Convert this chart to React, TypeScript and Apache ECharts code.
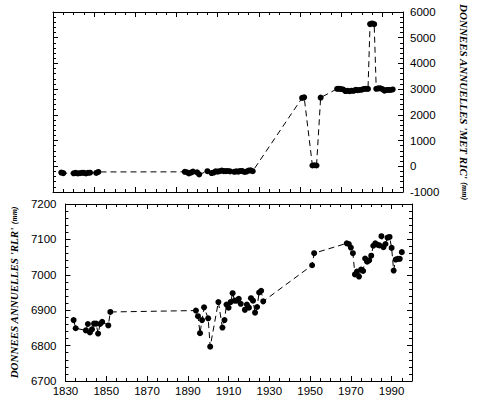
import React, { useEffect, useRef } from "react";
import * as echarts from "echarts";

// Bottom panel: RLR annual means (mm)
const rlrYears = [
  1834, 1835, 1840, 1841, 1842, 1843, 1844, 1845, 1846, 1847, 1848, 1851, 1852,
  1894, 1895, 1896, 1897, 1898, 1900, 1901, 1905, 1907, 1908, 1909, 1910, 1911,
  1912, 1913, 1914, 1915, 1916, 1918, 1919, 1920, 1921, 1922, 1923, 1924, 1925,
  1926, 1927, 1951, 1952, 1968, 1969, 1970, 1971, 1972, 1973, 1974, 1975, 1976,
  1977, 1978, 1979, 1980, 1981, 1982, 1983, 1984, 1985, 1986, 1987, 1988, 1989,
  1990, 1991, 1992, 1993, 1994, 1995,
];
const rlrValues = [
  6872, 6849, 6843, 6861, 6837, 6846, 6862, 6862, 6834, 6861, 6867, 6857, 6895,
  6899, 6883, 6835, 6872, 6908, 6877, 6797, 6923, 6851, 6872, 6916, 6907, 6923,
  6948, 6927, 6927, 6932, 6918, 6901, 6916, 6907, 6934, 6927, 6893, 6909, 6950,
  6955, 6925, 7027, 7061, 7089, 7087, 7077, 7061, 7001, 7009, 6995, 7015, 7011,
  7046, 7037, 7041, 7054, 7082, 7089, 7085, 7083, 7109, 7078, 7087, 7105, 7107,
  7076, 7012, 7043, 7045, 7045, 7064,
];

// Top panel: METRIC annual means (mm)
const metYears = [
  1834, 1835, 1840, 1841, 1842, 1843, 1844, 1845, 1846, 1847, 1848, 1851, 1852,
  1894, 1895, 1896, 1897, 1898, 1900, 1901, 1905, 1907, 1908, 1909, 1910, 1911,
  1912, 1913, 1914, 1915, 1916, 1918, 1919, 1920, 1921, 1922, 1923, 1924, 1925,
  1926, 1927, 1951, 1952, 1956, 1957, 1958, 1960, 1968, 1969, 1970, 1971, 1972,
  1973, 1974, 1975, 1976, 1977, 1978, 1979, 1980, 1981, 1982, 1983, 1984, 1985,
  1986, 1987, 1988, 1989, 1990, 1991, 1992, 1993, 1994, 1995,
];
const metValues = [
  -243, -266, -272, -254, -278, -269, -253, -253, -281, -254, -248, -258, -220,
  -216, -232, -280, -243, -207, -238, -318, -192, -264, -243, -199, -208, -192,
  -167, -188, -188, -183, -197, -214, -199, -208, -181, -188, -222, -206, -165,
  -160, -190, 2660, 2680, 30, 40, 30, 2670, 3014, 3012, 3002, 2986, 2926,
  2934, 2920, 2940, 2936, 2971, 2962, 2966, 2979, 3007, 3014, 3010, 5530, 5555,
  5525, 3012, 3030, 3032, 3001, 2937, 2968, 2970, 2970, 2989,
];

const xTicks = { min: 1830, max: 2000, interval: 20 };

const FONT = "'Liberation Sans', Arial, sans-serif";
const SERIF = "'Liberation Serif', 'Times New Roman', serif";

function xAxisDef(grid: number, position: "top" | "bottom", labels: boolean) {
  return {
    gridIndex: grid,
    type: "value",
    position,
    min: xTicks.min,
    max: xTicks.max,
    interval: xTicks.interval,
    axisLine: { show: true, onZero: false, lineStyle: { color: "#000", width: 1 } },
    axisTick: { show: true, inside: true, length: 5, lineStyle: { color: "#000" } },
    minorTick: { show: true, splitNumber: 4, length: 3, lineStyle: { color: "#000" } },
    splitLine: { show: false },
    axisLabel: {
      show: labels,
      margin: 4,
      color: "#000",
      fontFamily: FONT,
      fontSize: 11.5,
      formatter: (v: number) => ((v - 1830) % 20 === 0 && v < 2000 ? String(v) : ""),
    },
  };
}

function yAxisDef(
  grid: number,
  position: "left" | "right",
  min: number,
  max: number,
  interval: number,
  labels: boolean,
  name?: string,
  nameRotate?: number,
  nameGap?: number
) {
  return {
    gridIndex: grid,
    type: "value",
    position,
    min,
    max,
    interval,
    axisLine: { show: true, onZero: false, lineStyle: { color: "#000", width: 1 } },
    axisTick: { show: true, inside: true, length: 5, lineStyle: { color: "#000" } },
    minorTick: { show: true, splitNumber: 5, length: 3, lineStyle: { color: "#000" } },
    splitLine: { show: false },
    axisLabel: {
      show: labels,
      margin: position === "left" ? 9 : 7,
      color: "#000",
      fontFamily: FONT,
      fontSize: 11.5,
      formatter: (v: number) => String(v),
    },
    name: name || "",
    nameLocation: "middle",
    nameRotate,
    nameGap,
    nameTextStyle: {
      color: "#000",
      rich: {
        a: { fontFamily: SERIF, fontWeight: "bold", fontStyle: "italic", fontSize: 11, color: "#000" },
        b: { fontFamily: SERIF, fontWeight: "bold", fontStyle: "italic", fontSize: 8, color: "#000" },
      },
    },
  };
}

function seriesDef(years: number[], values: number[], xi: number, yi: number) {
  return {
    type: "line",
    xAxisIndex: xi,
    yAxisIndex: yi,
    data: years.map((y, i) => [y, values[i]]),
    symbol: "circle",
    symbolSize: 6,
    showSymbol: true,
    itemStyle: { color: "#000" },
    lineStyle: { color: "#000", width: 1, type: [6, 4] },
    clip: false,
  };
}

export default function App() {
  const ref = useRef<HTMLDivElement>(null);
  useEffect(() => {
    if (!ref.current) return;
    const chart = echarts.init(ref.current, null, { renderer: "svg" });
    chart.setOption({
      animation: false,
      backgroundColor: "#fff",
      grid: [
        { left: 53, top: 12, width: 359, height: 180 },
        { left: 53, top: 204, width: 359, height: 180 },
      ],
      xAxis: [
        xAxisDef(0, "bottom", false),
        xAxisDef(0, "top", false),
        xAxisDef(1, "bottom", true),
        xAxisDef(1, "top", false),
      ],
      yAxis: [
        yAxisDef(0, "right", -1000, 6000, 1000, true, "{a|DONNEES ANNUELLES 'MET RIC'} {b|(mm)}", -90, 55),
        yAxisDef(0, "left", -1000, 6000, 1000, false),
        yAxisDef(1, "left", 6700, 7200, 100, true, "{a|DONNEES ANNUELLES 'RLR'} {b|(mm)}", 90, 41),
        yAxisDef(1, "right", 6700, 7200, 100, false),
      ],
      series: [seriesDef(metYears, metValues, 0, 0), seriesDef(rlrYears, rlrValues, 2, 2)],
    });
    return () => chart.dispose();
  }, []);
  return (
    <div
      ref={ref}
      style={{ position: "fixed", left: 0, top: 0, width: 478, height: 397, background: "#fff" }}
    />
  );
}
